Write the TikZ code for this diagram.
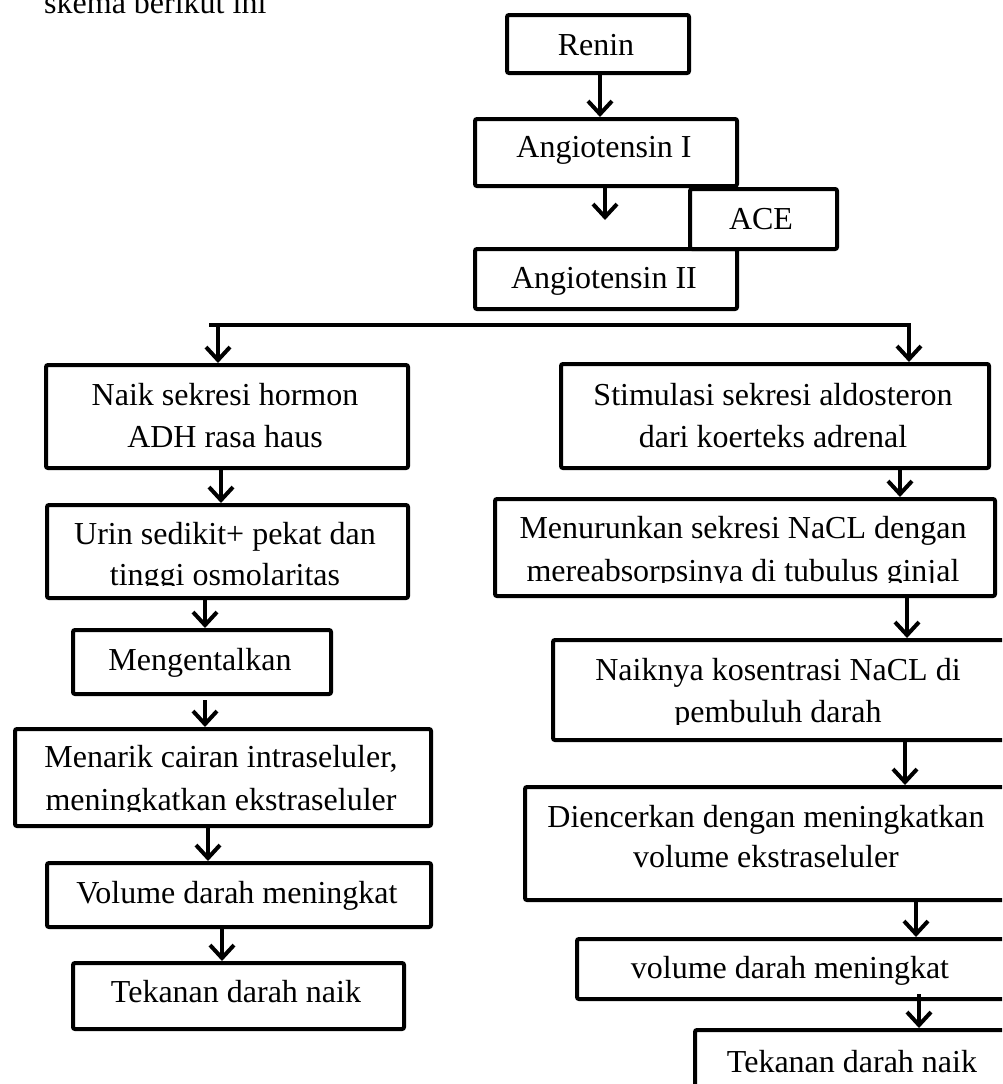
\documentclass[tikz,border=0pt]{standalone}
\usepackage{fontspec}
\setmainfont{Liberation Serif}
\usetikzlibrary{arrows.meta}
\begin{document}
\begin{tikzpicture}[x=1pt,y=-1pt,
  box/.style={draw, line width=4pt, rounded corners=2pt, inner sep=0pt, anchor=north west},
  txt/.style={anchor=base, inner sep=0pt, font=\fontsize{32}{42}\selectfont},
  arr/.style={line width=4pt, -{Straight Barb[length=13pt,width=24pt]}},
  ln/.style={line width=4pt}]
\useasboundingbox (0,0) rectangle (1002,1084);
\clip (0,0) rectangle (1002,1084);
\fill[white] (0,0) rectangle (1002,1084);

% intro text
\node[txt, anchor=base west] (intro) at (44,13) {skema berikut ini};

% top chain
\node[box, minimum width=182pt, minimum height=58pt] (renin) at (505,13) {};
\node[box, minimum width=262pt, minimum height=67pt] (ang1) at (473,117) {};
\node[box, minimum width=147pt, minimum height=60pt] (ace) at (688,187) {};
\node[box, minimum width=262pt, minimum height=60pt] (ang2) at (473,247) {};
\node[txt] (trenin) at (596,55) {Renin};
\node[txt] (tang1) at (604,157) {Angiotensin I};
\node[txt] (tace) at (761,229) {ACE};
\node[txt] (tang2) at (604,288) {Angiotensin II};

% left column
\node[box, minimum width=362pt, minimum height=103pt] (naik) at (44,363) {};
\node[box, minimum width=361pt, minimum height=93pt] (urin) at (45,503) {};
\node[box, minimum width=258pt, minimum height=64pt] (meng) at (71,628) {};
\node[box, minimum width=416pt, minimum height=97pt] (menarik) at (13,727) {};
\node[box, minimum width=384pt, minimum height=64pt] (volL) at (45,861) {};
\node[box, minimum width=331pt, minimum height=66pt] (tekL) at (71,961) {};

\node[txt] (tnaik1) at (225,405) {Naik sekresi hormon};
\node[txt] (tnaik2) at (225,447) {ADH rasa haus};
\node[txt] (turin1) at (225,544) {Urin sedikit+ pekat dan};
\begin{scope}
  \clip (45,503) rectangle (406,585.5);
  \node[txt] (turin2) at (225,585) {tinggi osmolaritas};
\end{scope}
\node[txt] (tmeng) at (200,670) {Mengentalkan};
\node[txt] (tmenarik1) at (221,767) {Menarik cairan intraseluler,};
\begin{scope}
  \clip (13,727) rectangle (429,811.5);
  \node[txt] (tmenarik2) at (221,810) {meningkatkan ekstraseluler};
\end{scope}
\node[txt] (tvolL) at (237,903) {Volume darah meningkat};
\node[txt] (ttekL) at (236,1002) {Tekanan darah naik};

% right column
\node[box, minimum width=428pt, minimum height=104pt] (stim) at (559,362) {};
\node[box, minimum width=500pt, minimum height=97pt] (menur) at (493,497) {};
\node[box, minimum width=479pt, minimum height=100pt] (naiknya) at (551,638) {};
\node[box, minimum width=507pt, minimum height=113pt] (dien) at (523,785) {};
\node[box, minimum width=455pt, minimum height=60pt] (volR) at (575,937) {};
\node[box, minimum width=337pt, minimum height=72pt] (tekR) at (693,1028) {};

\node[txt] (tstim1) at (773,405) {Stimulasi sekresi aldosteron};
\node[txt] (tstim2) at (773,447) {dari koerteks adrenal};
\node[txt] (tmenur1) at (743,538) {Menurunkan sekresi NaCL dengan};
\begin{scope}
  \clip (493,497) rectangle (993,582.5);
  \node[txt] (tmenur2) at (743,581) {mereabsorpsinya di tubulus ginjal};
\end{scope}
\node[txt] (tnaiknya1) at (778,680) {Naiknya kosentrasi NaCL di};
\begin{scope}
  \clip (551,638) rectangle (1030,724);
  \node[txt] (tnaiknya2) at (778,722) {pembuluh darah};
\end{scope}
\node[txt] (tdien1) at (766,827) {Diencerkan dengan meningkatkan};
\node[txt] (tdien2) at (766,867) {volume ekstraseluler};
\node[txt] (tvolR) at (790,978) {volume darah meningkat};
\node[txt] (ttekR) at (852,1072) {Tekanan darah naik};

% connectors top
\draw[arr] (renin.south -| 600,0) -- (ang1.north -| 600,0);
\draw[arr, shorten >=27pt] (ang1.south -| 605,0) -- (ang2.north -| 605,0);

% branch
\coordinate (bl) at (209,325);
\coordinate (jl) at (218,325);
\coordinate (jr) at (909,325);
\draw[ln] (bl) -- (jl);
\draw[arr] (jl) -- (jr) -- (stim.north -| jr);
\draw[arr] (jl) -- (naik.north -| jl);

% left chain
\draw[arr] (naik.south -| 221,0) -- (urin.north -| 221,0);
\draw[arr] (urin.south -| 205,0) -- (meng.north -| 205,0);
\draw[arr, shorten <=4pt] (meng.south -| 205,0) -- (menarik.north -| 205,0);
\draw[arr] (menarik.south -| 208,0) -- (volL.north -| 208,0);
\draw[arr] (volL.south -| 222,0) -- (tekL.north -| 222,0);

% right chain
\draw[arr] (stim.south -| 900,0) -- (menur.north -| 900,0);
\draw[arr] (menur.south -| 907,0) -- (naiknya.north -| 907,0);
\draw[arr] (naiknya.south -| 905,0) -- (dien.north -| 905,0);
\draw[arr] (dien.south -| 916,0) -- (volR.north -| 916,0);
\draw[arr, shorten <=-7pt] (volR.south -| 919,0) -- (tekR.north -| 919,0);
\end{tikzpicture}
\end{document}
